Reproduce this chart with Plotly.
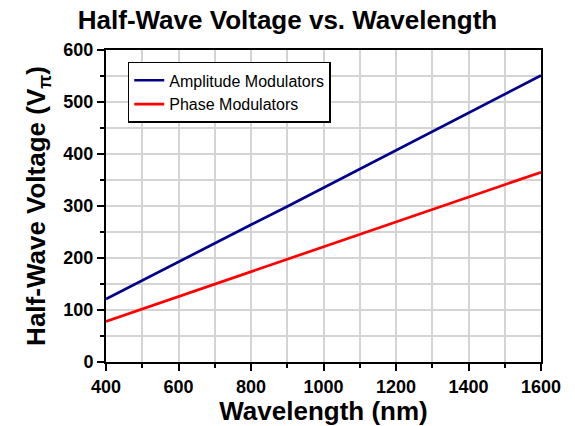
import plotly.graph_objects as go

wavelength_nm = [400, 500, 600, 700, 800, 900, 1000, 1100, 1200, 1300, 1400, 1500, 1600]
amplitude_vpi = [121, 157, 192, 228, 264, 299, 335, 371, 407, 443, 479, 514, 551]
phase_vpi = [78, 102, 126, 150, 174, 198, 222, 246, 270, 294, 318, 342, 365]

FONT = "Liberation Sans, Arial, sans-serif"
GRID = "#d4d4d4"

fig = go.Figure()
fig.add_trace(go.Scatter(x=wavelength_nm, y=amplitude_vpi, mode="lines",
                         name="Amplitude Modulators",
                         line=dict(color="#00008b", width=2.7)))
fig.add_trace(go.Scatter(x=wavelength_nm, y=phase_vpi, mode="lines",
                         name="Phase Modulators",
                         line=dict(color="#ff0000", width=2.7)))

axis_common = dict(
    showline=True, linecolor="black", linewidth=2, mirror=True,
    ticks="outside", ticklen=7, tickwidth=2, tickcolor="black",
    showgrid=True, gridcolor=GRID, gridwidth=1.5,
    zeroline=False, automargin=False,
    tickfont=dict(family=FONT, size=18, color="black", weight="bold"),
)

fig.update_layout(
    width=575, height=426,
    margin=dict(l=106, r=34, t=50, b=64),
    paper_bgcolor="white", plot_bgcolor="white",
    title=dict(text="Half-Wave Voltage vs. Wavelength", x=0.5, xanchor="center",
               y=0.953, yanchor="middle", yref="container",
               font=dict(family=FONT, size=26, color="black", weight="bold")),
    xaxis=dict(range=[400, 1600], dtick=200, tick0=400,
               minor=dict(dtick=100, ticklen=4, tickwidth=2, tickcolor="black",
                          showgrid=True, gridcolor=GRID, gridwidth=1.5),
               title=dict(text="Wavelength (nm)", standoff=6,
                          font=dict(family=FONT, size=26, color="black", weight="bold")),
               **axis_common),
    yaxis=dict(range=[0, 600], dtick=100, tick0=0,
               minor=dict(dtick=50, ticklen=4, tickwidth=2, tickcolor="black",
                          showgrid=True, gridcolor=GRID, gridwidth=1.5),
               title=dict(text="Half-Wave Voltage (V<sub>π</sub>)", standoff=10,
                          font=dict(family=FONT, size=26, color="black", weight="bold")),
               **axis_common),
    legend=dict(x=0.05, y=0.962, xanchor="left", yanchor="top",
                bgcolor="white", bordercolor="black", borderwidth=1.5,
                font=dict(family=FONT, size=16, color="black"),
                tracegroupgap=0),
    showlegend=True,
)

fig.write_html("out.html")
